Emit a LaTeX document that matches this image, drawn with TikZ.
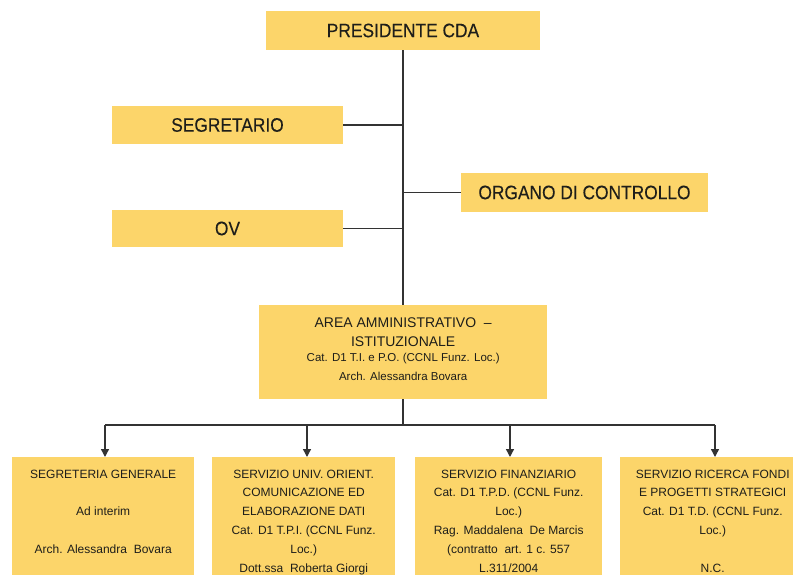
\documentclass[tikz,border=0pt]{standalone}
\usepackage{fontspec}
\setmainfont{Liberation Sans}
\newfontfamily\narrowfont{Liberation Sans}[FakeStretch=0.89,FakeBold=0.25]
\usetikzlibrary{arrows.meta}
\definecolor{boxfill}{HTML}{FCD56A}
\definecolor{txt}{HTML}{1E1E1A}
\definecolor{ln}{HTML}{333333}
\begin{document}
\begin{tikzpicture}[x=1pt,y=-1pt,
  box/.style={fill=boxfill, draw=none, text=txt, inner sep=0pt},
  topbox/.style={box, font=\narrowfont\fontsize{19.5}{22}\selectfont},
  conn/.style={draw=ln, line width=1.4pt},
  arr/.style={conn, -{Triangle[length=8pt,width=8pt]}}]
\useasboundingbox (0,0) rectangle (793,575);
\clip (0,0) rectangle (793,575);
\fill[white] (0,0) rectangle (793,575);

% top level boxes
\node[topbox, minimum width=274pt, minimum height=39pt] (pres) at (403,30.5) {PRESIDENTE CDA};
\node[topbox, minimum width=231pt, minimum height=38pt] (segr) at (227.5,125) {SEGRETARIO};
\node[topbox, minimum width=247pt, minimum height=39pt] (org) at (584.5,192.5) {ORGANO DI CONTROLLO};
\node[topbox, minimum width=231pt, minimum height=37pt] (ov) at (227.5,228.5) {OV};

% area box
\node[box, anchor=north west] (area) at (259,305) {\begin{minipage}[t][94pt][t]{288pt}\centering
\vspace*{13pt}\fontsize{14}{19}\selectfont AREA AMMINISTRATIVO\ \ –\\ ISTITUZIONALE\par
\fontsize{11.5}{15}\selectfont Cat. D1 T.I. e P.O. (CCNL Funz. Loc.)\\[4pt]
Arch. Alessandra Bovara\end{minipage}};

% bottom boxes
\newcommand{\botbox}[4]{%
\node[box, anchor=north west] (#1) at (#2,457) {\begin{minipage}[t][125pt][t]{#3pt}\centering
\vspace*{12.5pt}\fontsize{12}{18.8}\selectfont #4\end{minipage}};}
\botbox{b1}{12}{182}{SEGRETERIA GENERALE\\[18.8pt] Ad interim\\[18.8pt] Arch. Alessandra\ \ Bovara}
\botbox{b2}{212}{183}{SERVIZIO UNIV. ORIENT.\\ COMUNICAZIONE ED\\ ELABORAZIONE DATI\\ Cat. D1 T.P.I. (CCNL Funz.\\ Loc.)\\ Dott.ssa\ \ Roberta Giorgi}
\botbox{b3}{415}{187}{SERVIZIO FINANZIARIO\\ Cat. D1 T.P.D. (CCNL Funz.\\ Loc.)\\ Rag. Maddalena\ \ De Marcis\\ (contratto\ \ art. 1 c. 557\\ L.311/2004}
\botbox{b4}{620}{185}{SERVIZIO RICERCA FONDI\\ E PROGETTI STRATEGICI\\ Cat. D1 T.D. (CCNL Funz.\\ Loc.)\\[18.8pt] N.C.}

% connectors
\draw[conn] (pres.south) -- (area.north -| pres.south);
\draw[conn] (segr.east) -- (segr.east -| pres.south);
\draw[conn] (org.west) -- (org.west -| pres.south);
\draw[conn] (ov.east) -- (ov.east -| pres.south);

\coordinate (hub) at (403,425);
\coordinate (j1) at (105,425);
\coordinate (j2) at (307,425);
\coordinate (j3) at (510,425);
\coordinate (j4) at (715,425);
\draw[conn] (area.south -| pres.south) -- (hub);
\draw[conn] (j1) -- (j4);
\draw[arr] (j1) -- (j1 |- b1.north);
\draw[arr] (j2) -- (j2 |- b2.north);
\draw[arr] (j3) -- (j3 |- b3.north);
\draw[arr] (j4) -- (j4 |- b4.north);
\end{tikzpicture}
\end{document}
